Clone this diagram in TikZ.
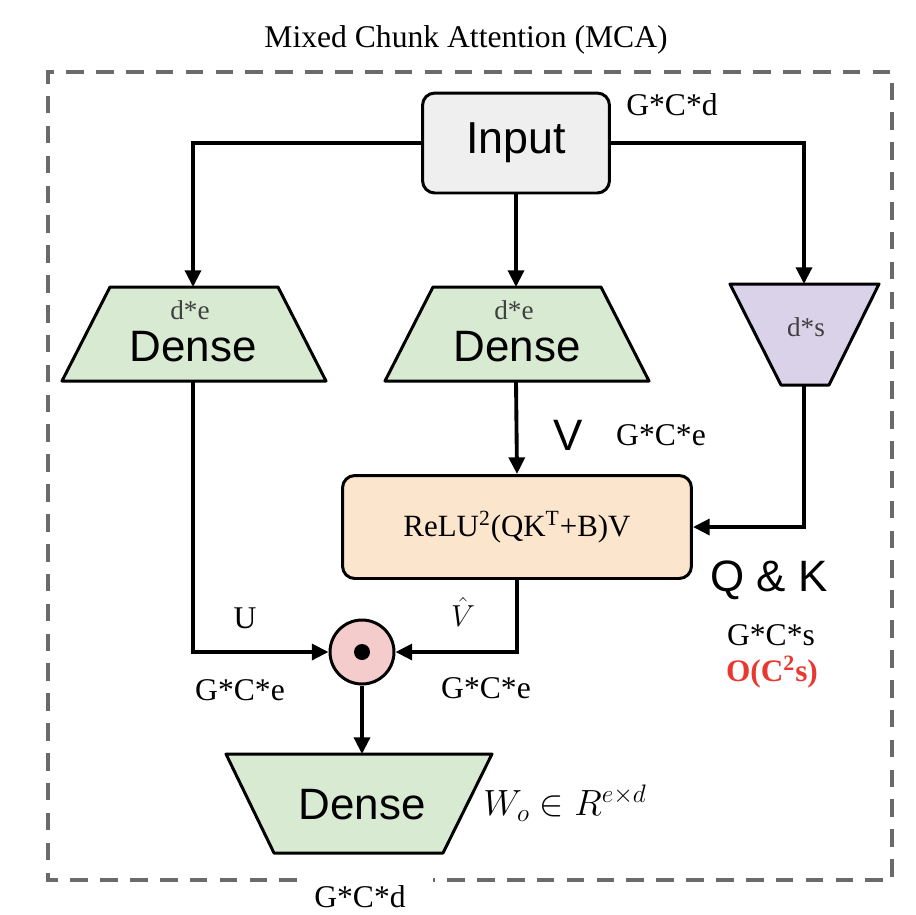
\documentclass[tikz,border=0pt]{standalone}
\usepackage{fontspec}
\setmainfont{Liberation Serif}
\newfontfamily\sansf{Liberation Sans}
\usetikzlibrary{arrows.meta}
\definecolor{densegreen}{HTML}{D9EAD3}
\definecolor{qkpurple}{HTML}{D9D2E9}
\definecolor{relufill}{HTML}{FCE5CD}
\definecolor{inputgray}{HTML}{EFEFEF}
\definecolor{odotpink}{HTML}{F4CCCC}
\definecolor{framegray}{HTML}{6A6A6A}
\definecolor{ored}{HTML}{E8382F}
\tikzset{
  shapeline/.style={draw=black, line width=1.7pt, line join=round},
  connector/.style={draw=black, line width=2.2pt, -{Triangle[length=9.5pt,width=9pt]}},
  lbl/.style={inner sep=0pt, font=\fontsize{18}{21}\selectfont},
  biglbl/.style={inner sep=0pt, font=\sansf\fontsize{25}{28}\selectfont},
  smalllbl/.style={inner sep=0pt, font=\fontsize{15.5}{18}\selectfont, text=black!75},
}
\begin{document}
\begin{tikzpicture}[x=0.02cm, y=-0.02cm]
\useasboundingbox (0,0) rectangle (916,914);

% frame
\draw[framegray, line width=2pt, dash pattern=on 10pt off 7pt]
  (297,880) -- (48,880) -- (48,72) -- (892,72) -- (892,880) -- (433,880);
\node[lbl] (title) at (466,40) {Mixed Chunk Attention (MCA)};

% input
\node[shapeline, rounded corners=7pt, fill=inputgray, minimum width=3.74cm, minimum height=2cm,
  font=\sansf\fontsize{25.5}{28}\selectfont] (input) at (516,143) {Input};
\node[lbl] (gcd1) at (672,105) {G*C*d};

% left dense
\filldraw[shapeline, fill=densegreen] (110,287) -- (278,287) -- (326,381) -- (62,381) -- cycle;
\coordinate (dltop) at (193,287);
\coordinate (dlbot) at (193,381);
\node[smalllbl] (dlde) at (190,310) {d*e};
\node[biglbl] (dldense) at (193,347) {Dense};

% middle dense
\filldraw[shapeline, fill=densegreen] (433,287) -- (601,287) -- (649,381) -- (385,381) -- cycle;
\coordinate (dmtop) at (516,287);
\coordinate (dmbot) at (516,381);
\node[smalllbl] (dmde) at (514,310) {d*e};
\node[biglbl] (dmdense) at (517,347) {Dense};

% purple
\filldraw[shapeline, fill=qkpurple] (730,284) -- (879,284) -- (829,385) -- (781,385) -- cycle;
\coordinate (dstop) at (804,284);
\coordinate (dsbot) at (804,385);
\node[smalllbl] (dsds) at (806,327) {d*s};

% relu
\node[shapeline, rounded corners=7pt, fill=relufill, minimum width=6.98cm, minimum height=2.06cm,
  font=\fontsize{17.6}{20}\selectfont] (relu) at (517,527)
  {ReLU\textsuperscript{2}(QK\textsuperscript{T}+B)V};

% odot
\node[shapeline, circle, fill=odotpink, minimum size=1.28cm, inner sep=0pt] (odot) at (362,652) {};
\fill (odot.center) circle (0.16cm);

% bottom dense
\filldraw[shapeline, fill=densegreen] (226,754) -- (492,754) -- (443,853) -- (274,853) -- cycle;
\coordinate (dbtop) at (362,754);
\node[biglbl] (dbdense) at (362,805) {Dense};

% connectors
\path[connector] (input.west) -| (dltop);
\path[connector] (input.south) -- (dmtop);
\path[connector] (input.east) -| (dstop);
\path[connector] (dmbot) -- (relu.north);
\path[connector] (dsbot) |- (relu.east);
\path[connector] (dlbot) |- (odot.west);
\path[connector] (relu.south) |- (odot.east);
\path[connector] (odot.south) -- (dbtop);

% labels
\node[biglbl] (vlbl) at (568,435) {V};
\node[lbl] (gce1) at (661,435) {G*C*e};
\node[biglbl] (qk) at (769,580) {Q \& K};
\node[lbl] (gcs) at (771,635) {G*C*s};
\node[lbl, text=ored, font=\bfseries\fontsize{17.8}{20}\selectfont] (ocs) at (772,672) {O(C\textsuperscript{2}s)};
\node[lbl] (ulbl) at (245,618) {U};
\node[lbl] (gce2) at (240,690) {G*C*e};
\node[lbl, font=\fontsize{18}{20}\selectfont] (vhat) at (463,612) {$\hat{V}$};
\node[lbl] (gce3) at (486,688) {G*C*e};
\node[lbl, font=\fontsize{19.5}{22}\selectfont] (wo) at (565,803) {$W_o \in R^{e\times d}$};
\node[lbl] (gcd2) at (360,897) {G*C*d};
\end{tikzpicture}
\end{document}
